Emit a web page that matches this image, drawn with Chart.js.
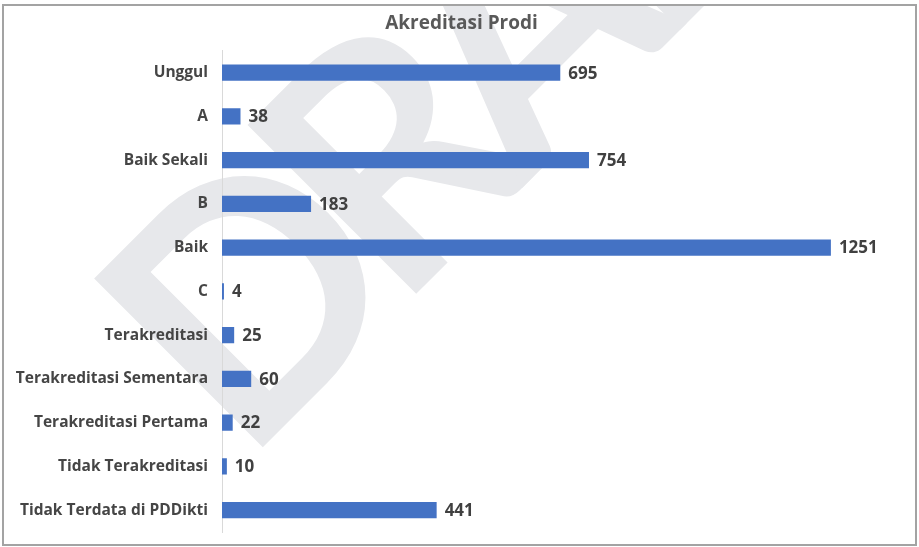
<!DOCTYPE html>
<html lang="id">
<head>
<meta charset="UTF-8">
<title>Akreditasi Prodi</title>
<script src="https://cdn.jsdelivr.net/npm/chart.js"></script>
<style>
    html, body { margin: 0; padding: 0; background: #fff; }
    #wrap { width: 919px; height: 547px; position: relative; }
</style>
</head>
<body>
<div id="wrap"><canvas id="chartProdi"></canvas></div>
<script>
    // data
    const kategori = ['Unggul', 'A', 'Baik Sekali', 'B', 'Baik', 'C', 'Terakreditasi',
        'Terakreditasi Sementara', 'Terakreditasi Pertama', 'Tidak Terakreditasi', 'Tidak Terdata di PDDikti'];
    const jumlahProdi = [695, 38, 754, 183, 1251, 4, 25, 60, 22, 10, 441];
    const judul = 'Akreditasi Prodi';
    const watermark = 'DRAFT';

    // bingkai abu-abu + watermark di belakang grafik
    const latarPlugin = {
        id: 'latar',
        beforeDraw(chart) {
            const ctx = chart.ctx;
            ctx.save();
            ctx.strokeStyle = '#a3a3a3';
            ctx.lineWidth = 2;
            ctx.strokeRect(3, 5, 913, 540);

            ctx.beginPath();
            ctx.rect(4, 6, 911, 538);
            ctx.clip();
            ctx.translate(244, 466);
            ctx.rotate(-45 * Math.PI / 180);
            ctx.font = 'bold 330px Lato';
            ctx.letterSpacing = '-34px';
            ctx.fillStyle = '#e7e8eb';
            ctx.textBaseline = 'alphabetic';
            ctx.fillText(watermark, 0, 0);
            ctx.restore();
        }
    };

    // angka di ujung batang
    const nilaiPlugin = {
        id: 'nilai',
        afterDatasetsDraw(chart) {
            const ctx = chart.ctx;
            const meta = chart.getDatasetMeta(0);
            ctx.save();
            ctx.font = 'bold 17px "Open Sans"';
            ctx.fillStyle = '#404040';
            ctx.textAlign = 'left';
            ctx.textBaseline = 'middle';
            meta.data.forEach((bar, i) => {
                ctx.fillText(jumlahProdi[i], bar.x + 8, bar.y + 1);
            });
            ctx.restore();
        }
    };

    const ctx = document.getElementById('chartProdi').getContext('2d');
    new Chart(ctx, {
        type: 'bar',
        data: {
            labels: kategori,
            datasets: [{
                label: 'Jumlah Prodi',
                data: jumlahProdi,
                backgroundColor: '#4472c4',
                borderWidth: 0,
                barPercentage: 0.37,
                categoryPercentage: 1
            }]
        },
        options: {
            indexAxis: 'y',
            responsive: true,
            maintainAspectRatio: false,
            animation: false,
            // kanan sedikit negatif supaya judul bergeser ke kanan seperti aslinya
            layout: { padding: { top: 0, right: -4, bottom: 15, left: 0 } },
            scales: {
                x: {
                    display: false,
                    min: 0,
                    max: 1432
                },
                y: {
                    afterFit(scale) {
                        scale.width = 222;
                        scale.paddingTop = 0;
                        scale.paddingBottom = 0;
                    },
                    grid: { display: false },
                    border: { display: true, color: '#d9d9d9', width: 1 },
                    ticks: {
                        padding: 6,
                        color: '#454545',
                        font: { family: 'Open Sans', size: 15.5, weight: 'bold' }
                    }
                }
            },
            plugins: {
                legend: { display: false },
                tooltip: { enabled: false },
                title: {
                    display: true,
                    text: judul,
                    color: '#595959',
                    font: { family: 'Open Sans', size: 19, weight: 'bold' },
                    padding: { top: 12, bottom: 16 }
                }
            }
        },
        plugins: [latarPlugin, nilaiPlugin]
    });
</script>
</body>
</html>
